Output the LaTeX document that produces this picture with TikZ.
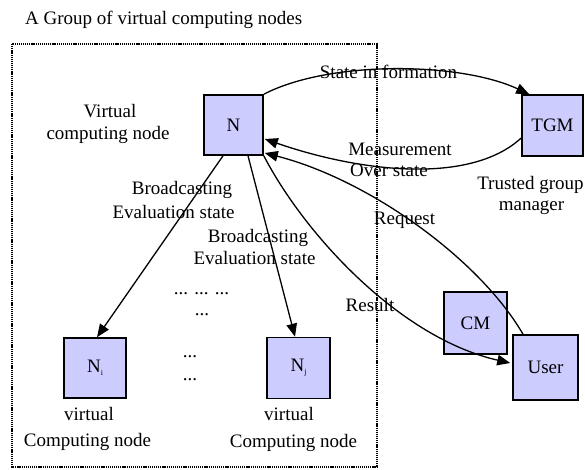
\documentclass[tikz,border=0pt]{standalone}
\usepackage{fontspec}
\setmainfont{Liberation Serif}
\usetikzlibrary{arrows.meta,calc}
\definecolor{boxfill}{HTML}{CCCCFF}
\begin{document}
\begin{tikzpicture}[x=1pt,y=-1pt,
  box/.style={draw=black, line width=1.6pt, fill=boxfill, inner sep=0pt,
    font=\fontsize{19}{23}\selectfont},
  conn/.style={line width=1.3pt, -{Triangle[length=13pt,width=10.5pt]}},
  frame/.style={line width=2pt, dash pattern=on 1.2pt off 0.9pt},
  lbl/.style={font=\fontsize{19}{23}\selectfont, inner sep=0pt, anchor=base}]
\useasboundingbox (0,0) rectangle (585,469);

\draw[frame] (11.5,44) rectangle (376.5,466.5);

\node[box, minimum width=59pt, minimum height=60pt] (N) at (233.5,125) {N};
\node[box, minimum width=61pt, minimum height=61pt] (TGM) at (552.5,125.5) {TGM};
\node[box, minimum width=62pt, minimum height=60pt] (Ni) at (95,368) {N\raisebox{-0.35ex}{\fontsize{8}{8}\selectfont i}};
\node[box, minimum width=63pt, minimum height=61pt] (Nj) at (298.5,368) {N\raisebox{-0.35ex}{\fontsize{8}{8}\selectfont j}};
\node[box, minimum width=63pt, minimum height=62pt] (CM) at (475.5,323) {CM};
\node[box, minimum width=65pt, minimum height=65pt] (User) at (545.5,367.5) {User};

\draw[conn] ([xshift=-10.5pt]N.south) -- ([xshift=2pt]Ni.north);
\draw[conn] ([xshift=14.5pt]N.south) -- ([xshift=-3.5pt]Nj.north);
\draw[conn] (N.north east) .. controls (330,60) and (460,62) .. ([xshift=8pt]TGM.north west);
\draw[conn] ([yshift=-12.5pt]TGM.west) .. controls (470,185) and (360,172) .. ($(N.east)+(1,14)$);
\draw[conn] ([xshift=-22.5pt]User.north) .. controls (480,260) and (370,180) .. ($(N.east)+(1,28)$);
\draw[conn] (N.south east) .. controls (305,235) and (400,338) .. ($(User.west)+(-2,-4.5)$);

\node[lbl, anchor=base west] (title) at (25,24.5) {A Group of virtual computing nodes};
\node[lbl] (vcn1) at (110,117) {Virtual};
\node[lbl] (vcn2) at (108,139) {computing node};
\node[lbl] (si) at (388.5,78) {State in formation};
\node[lbl] (ms1) at (400,155) {Measurement};
\node[lbl] (ms2) at (389,176) {Over state};
\node[lbl] (tg1) at (530.5,189) {Trusted group};
\node[lbl] (tg2) at (531.5,210) {manager};
\node[lbl] (req) at (404.5,224) {Request};
\node[lbl] (bc1) at (182,194) {Broadcasting};
\node[lbl] (ev1) at (173.5,218) {Evaluation state};
\node[lbl] (bc2) at (258,242) {Broadcasting};
\node[lbl] (ev2) at (254.5,264) {Evaluation state};
\node[lbl] (d1) at (201.5,294) {... ... ...};
\node[lbl] (d2) at (202,315) {...};
\node[lbl] (d3) at (190,357) {...};
\node[lbl] (d4) at (190,380) {...};
\node[lbl] (vi1) at (89,420) {virtual};
\node[lbl] (vi2) at (87.5,446) {Computing node};
\node[lbl] (vj1) at (289,420) {virtual};
\node[lbl] (vj2) at (293.5,447) {Computing node};
\node[lbl] (res) at (370,311) {Result};
\end{tikzpicture}
\end{document}
